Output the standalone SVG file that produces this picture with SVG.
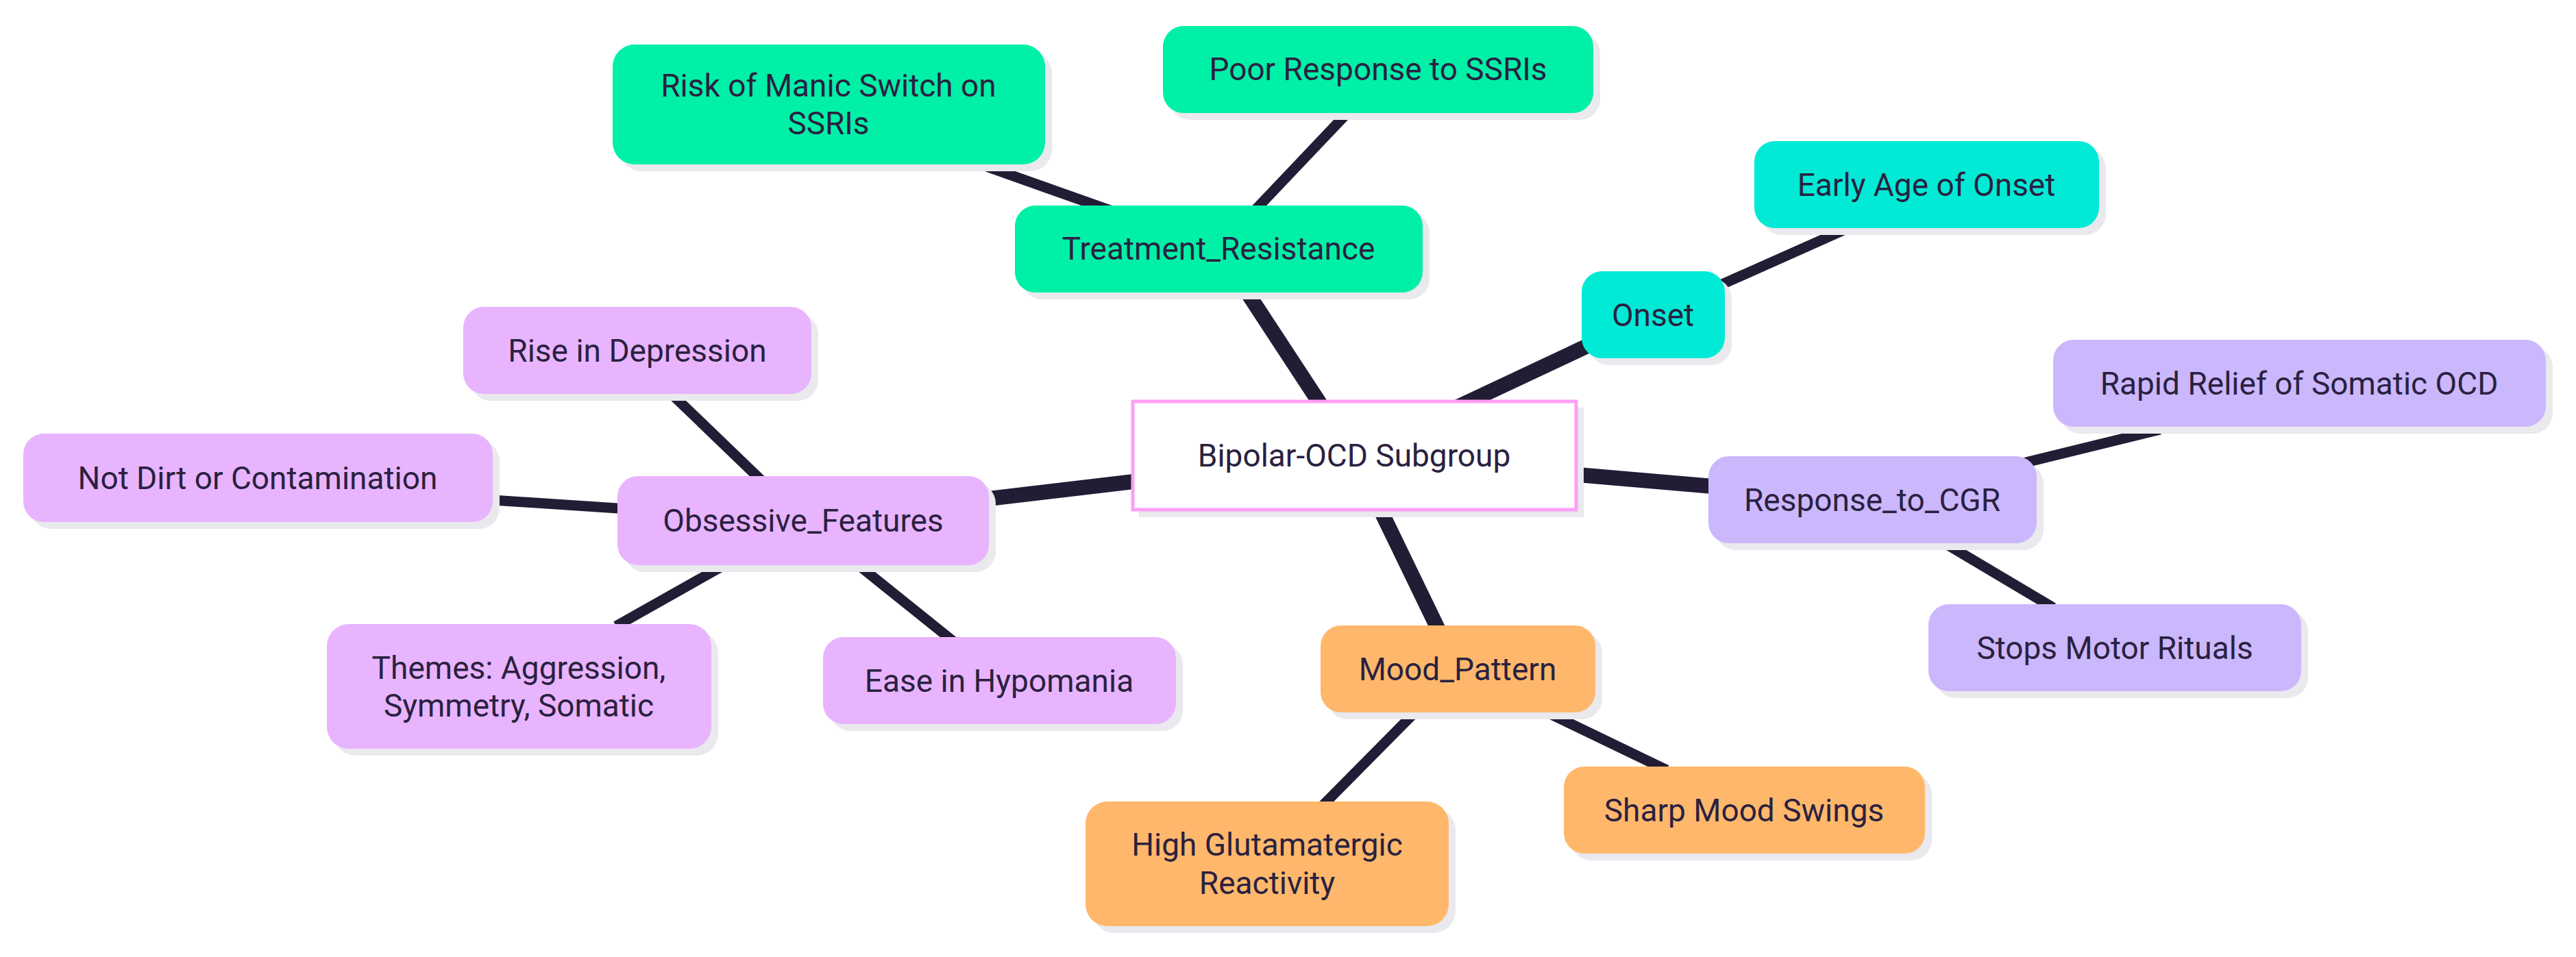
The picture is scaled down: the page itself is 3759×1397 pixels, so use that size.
<svg xmlns="http://www.w3.org/2000/svg" width="3759" height="1397" viewBox="0 0 3759 1397">
<style>
.t{font-family:Roboto,"Liberation Sans",sans-serif;font-size:46px;fill:#2a2140;text-anchor:middle;dominant-baseline:central}
.sh{fill:#e9e9ee}
.g{fill:#00f0a8}.c{fill:#00ead5}.p{fill:#e8b4fe}.l{fill:#cbb7fc}.o{fill:#ffb86b}
.e{stroke:#231c35;stroke-linecap:butt;fill:none}
.e1{stroke-width:22}.e2{stroke-width:15}
</style>
<rect width="3759" height="1397" fill="#fff"/>
<g id="connectors">
<line class="e e1" x1="1976" y1="665" x2="1778" y2="363"/>
<line class="e e1" x1="1976" y1="665" x2="2412" y2="460"/>
<line class="e e1" x1="1976" y1="665" x2="2732" y2="730"/>
<line class="e e1" x1="1976" y1="665" x2="2127" y2="977"/>
<line class="e e1" x1="1976" y1="665" x2="1172" y2="760"/>
<line class="e e2" x1="1778" y1="363" x2="1431" y2="240"/>
<line class="e e2" x1="1778" y1="363" x2="1966" y2="165"/>
<line class="e e2" x1="2412" y1="460" x2="2697" y2="333"/>
<line class="e e2" x1="2732" y1="730" x2="3152" y2="627"/>
<line class="e e2" x1="2732" y1="730" x2="2996" y2="887"/>
<line class="e e2" x1="2127" y1="977" x2="1928" y2="1178"/>
<line class="e e2" x1="2127" y1="977" x2="2432" y2="1124"/>
<line class="e e2" x1="1172" y1="760" x2="983" y2="578"/>
<line class="e e2" x1="1172" y1="760" x2="719" y2="730"/>
<line class="e e2" x1="1172" y1="760" x2="899" y2="914"/>
<line class="e e2" x1="1172" y1="760" x2="1391" y2="936"/>
</g>
<g id="center"><rect x="1662" y="595" width="649" height="160" fill="#e9e9ee"/><rect x="1653" y="586" width="647" height="158" fill="#fff" stroke="#ff9ef5" stroke-width="5"/><text class="t" x="1976" y="665">Bipolar-OCD Subgroup</text></g>
<g id="treatment"><rect class="sh" x="1491" y="310" width="595" height="127" rx="30"/><rect class="g" x="1481" y="300" width="595" height="127" rx="30"/><text class="t" x="1778" y="363">Treatment_Resistance</text></g>
<g id="risk"><rect class="sh" x="904" y="75" width="631" height="175" rx="32"/><rect class="g" x="894" y="65" width="631" height="175" rx="32"/><text class="t" x="1209" y="125">Risk of Manic Switch on</text><text class="t" x="1209" y="180">SSRIs</text></g>
<g id="poor"><rect class="sh" x="1707" y="48" width="628" height="127" rx="30"/><rect class="g" x="1697" y="38" width="628" height="127" rx="30"/><text class="t" x="2011" y="101">Poor Response to SSRIs</text></g>
<g id="onset"><rect class="sh" x="2318" y="406" width="209" height="127" rx="30"/><rect class="c" x="2308" y="396" width="209" height="127" rx="30"/><text class="t" x="2412" y="460">Onset</text></g>
<g id="early"><rect class="sh" x="2570" y="216" width="503" height="127" rx="30"/><rect class="c" x="2560" y="206" width="503" height="127" rx="30"/><text class="t" x="2811" y="270">Early Age of Onset</text></g>
<g id="cgr"><rect class="sh" x="2503" y="676" width="479" height="127" rx="30"/><rect class="l" x="2493" y="666" width="479" height="127" rx="30"/><text class="t" x="2732" y="730">Response_to_CGR</text></g>
<g id="rapid"><rect class="sh" x="3006" y="506" width="719" height="127" rx="30"/><rect class="l" x="2996" y="496" width="719" height="127" rx="30"/><text class="t" x="3355" y="560">Rapid Relief of Somatic OCD</text></g>
<g id="stops"><rect class="sh" x="2824" y="892" width="544" height="127" rx="30"/><rect class="l" x="2814" y="882" width="544" height="127" rx="30"/><text class="t" x="3086" y="946">Stops Motor Rituals</text></g>
<g id="mood"><rect class="sh" x="1937" y="923" width="401" height="127" rx="30"/><rect class="o" x="1927" y="913" width="401" height="127" rx="30"/><text class="t" x="2127" y="977">Mood_Pattern</text></g>
<g id="high"><rect class="sh" x="1594" y="1180" width="530" height="182" rx="32"/><rect class="o" x="1584" y="1170" width="530" height="182" rx="32"/><text class="t" x="1849" y="1233">High Glutamatergic</text><text class="t" x="1849" y="1289">Reactivity</text></g>
<g id="sharp"><rect class="sh" x="2292" y="1129" width="527" height="127" rx="30"/><rect class="o" x="2282" y="1119" width="527" height="127" rx="30"/><text class="t" x="2545" y="1183">Sharp Mood Swings</text></g>
<g id="obsessive"><rect class="sh" x="911" y="705" width="542" height="130" rx="30"/><rect class="p" x="901" y="695" width="542" height="130" rx="30"/><text class="t" x="1172" y="760">Obsessive_Features</text></g>
<g id="rise"><rect class="sh" x="686" y="458" width="508" height="127" rx="30"/><rect class="p" x="676" y="448" width="508" height="127" rx="30"/><text class="t" x="930" y="512">Rise in Depression</text></g>
<g id="notdirt"><rect class="sh" x="44" y="643" width="685" height="129" rx="30"/><rect class="p" x="34" y="633" width="685" height="129" rx="30"/><text class="t" x="376" y="698">Not Dirt or Contamination</text></g>
<g id="themes"><rect class="sh" x="487" y="921" width="561" height="182" rx="32"/><rect class="p" x="477" y="911" width="561" height="182" rx="32"/><text class="t" x="757" y="975">Themes: Aggression,</text><text class="t" x="757" y="1030">Symmetry, Somatic</text></g>
<g id="ease"><rect class="sh" x="1211" y="940" width="515" height="127" rx="30"/><rect class="p" x="1201" y="930" width="515" height="127" rx="30"/><text class="t" x="1458" y="994">Ease in Hypomania</text></g>
</svg>
